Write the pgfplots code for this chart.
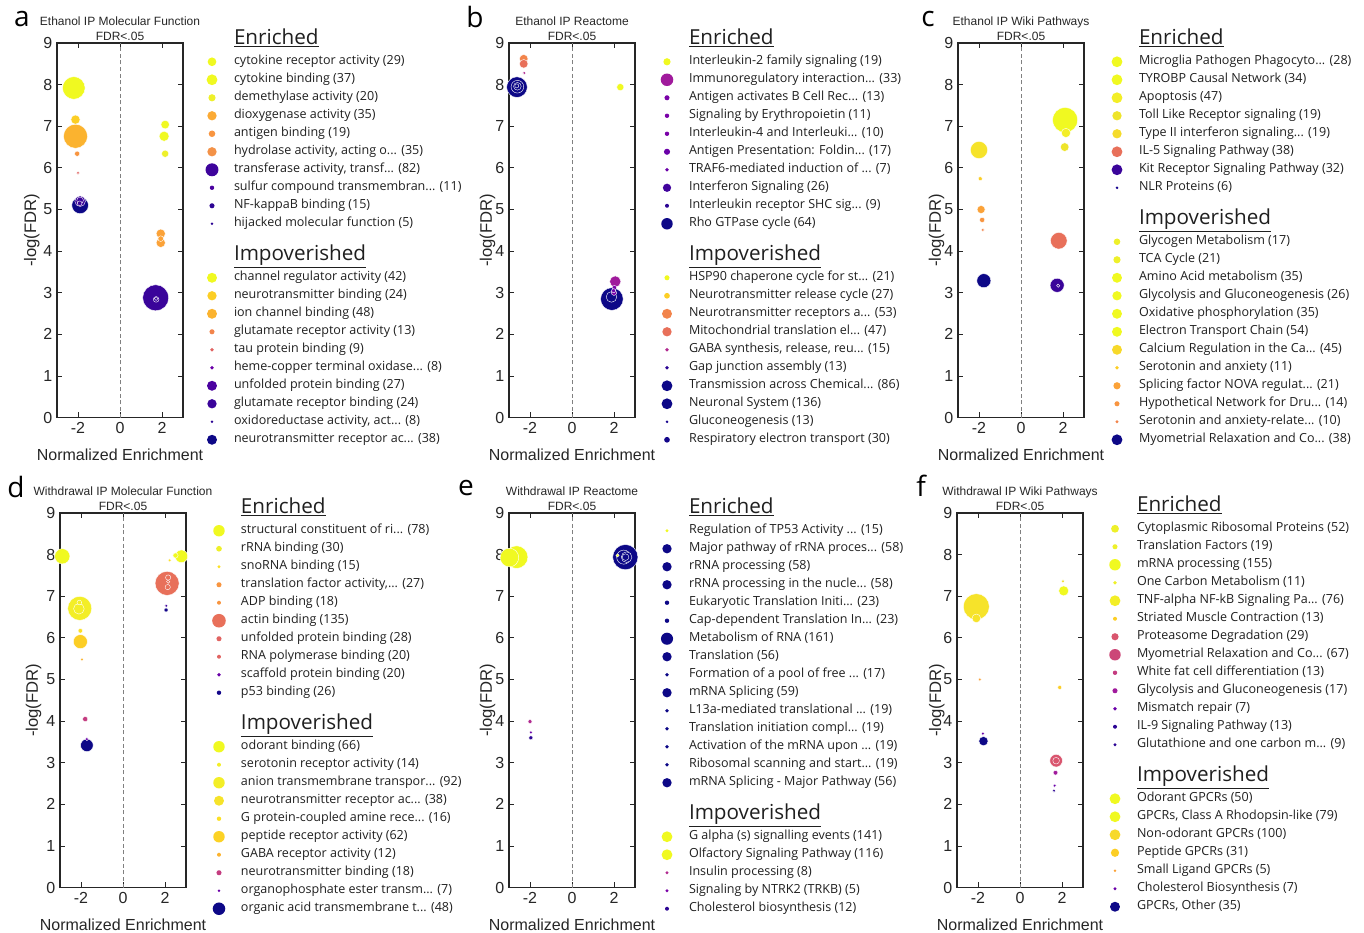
\documentclass[border=0pt]{standalone}
\usepackage{pgfplots}
\pgfplotsset{compat=1.18}
\usepackage{fontspec}
\setmainfont{Open Sans}
\newfontfamily\arial{Liberation Sans}
\definecolor{axc}{HTML}{262626}
\definecolor{legc}{HTML}{1F1F1F}
\definecolor{cF0F921}{HTML}{F0F921}
\definecolor{cEEF02A}{HTML}{EEF02A}
\definecolor{cF3EE27}{HTML}{F3EE27}
\definecolor{cF6E32A}{HTML}{F6E32A}
\definecolor{cF5DB2A}{HTML}{F5DB2A}
\definecolor{cF7D92A}{HTML}{F7D92A}
\definecolor{cEEE42A}{HTML}{EEE42A}
\definecolor{cEEE02A}{HTML}{EEE02A}
\definecolor{cFCE025}{HTML}{FCE025}
\definecolor{cFCCE25}{HTML}{FCCE25}
\definecolor{cFCD225}{HTML}{FCD225}
\definecolor{cFBB32F}{HTML}{FBB32F}
\definecolor{cFCB32F}{HTML}{FCB32F}
\definecolor{cFBAA35}{HTML}{FBAA35}
\definecolor{cFBA238}{HTML}{FBA238}
\definecolor{cF89540}{HTML}{F89540}
\definecolor{cF39248}{HTML}{F39248}
\definecolor{cF2844B}{HTML}{F2844B}
\definecolor{cE8705A}{HTML}{E8705A}
\definecolor{cE16462}{HTML}{E16462}
\definecolor{cD9556E}{HTML}{D9556E}
\definecolor{cCC4778}{HTML}{CC4778}
\definecolor{cC43C80}{HTML}{C43C80}
\definecolor{cB12A90}{HTML}{B12A90}
\definecolor{cA01A9C}{HTML}{A01A9C}
\definecolor{c7A02A8}{HTML}{7A02A8}
\definecolor{c6A00A8}{HTML}{6A00A8}
\definecolor{c4B02A0}{HTML}{4B02A0}
\definecolor{c41049D}{HTML}{41049D}
\definecolor{c3E049C}{HTML}{3E049C}
\definecolor{c3A049A}{HTML}{3A049A}
\definecolor{c2C0594}{HTML}{2C0594}
\definecolor{c2D0594}{HTML}{2D0594}
\definecolor{c1A0790}{HTML}{1A0790}
\definecolor{c13068A}{HTML}{13068A}
\definecolor{c0D0887}{HTML}{0D0887}
\newcommand{\legfont}{\fontsize{9.4}{10}\selectfont}
\newcommand{\hdfont}{\fontsize{15.5}{16}\selectfont}
\newcommand{\li}[3]{\addlegendimage{legend image code/.code={\path[draw=none,fill=none] (-8pt,0pt) -- (16.5pt,0pt);\fill[#1,draw=none] (0pt,0pt) circle[radius={0.8*#2pt+0.3pt}];}}\addlegendentry{#3}}
\newcommand{\hd}[1]{\addlegendimage{empty legend}\addlegendentry{\mbox{}}\addlegendimage{empty legend}\addlegendentry{\raisebox{2pt}{\hdfont\underline{#1}}}}
\newcommand{\pt}[4]{\addplot[forget plot, only marks, mark=*, mark size={0.75*#4pt+0.25pt}, mark options={fill=#3, draw=white, line width=0.3pt}] coordinates {(#1,#2)};}
\newcommand{\zl}{\addplot[forget plot, densely dashed, color=gray, line width=0.4pt] coordinates {(0,0) (0,9)};}
\pgfplotsset{
 panel/.style={
  anchor=north west, scale only axis, width=94.5pt, height=281pt,
  xmin=-3, xmax=3, ymin=0, ymax=9, xtick={-2,0,2}, ytick={0,1,...,9},
  tick align=inside, major tick length=4pt,
  axis line style={line width=0.9pt, draw=axc},
  tick style={line width=0.7pt, draw=axc},
  tick label style={font=\arial\fontsize{12}{12}\selectfont, text=axc},
  /pgf/number format/assume math mode=true,
  xlabel={Normalized Enrichment}, ylabel={-log(FDR)},
  xlabel style={font=\arial\fontsize{12}{12}\selectfont, text=axc, at={(axis description cs:0.5,-0.098)}, anchor=center},
  ylabel style={font=\arial\fontsize{12.5}{12.5}\selectfont, text=axc, anchor=center},
  title style={at={(axis description cs:0.5,1)}, anchor=south, yshift=-4.5pt, align=center, font=\arial\fontsize{9}{11.25}\selectfont, text=axc, inner sep=0pt},
  clip=false,
  legend cell align=left,
  legend style={draw=none, fill=none, anchor=north west, inner sep=0pt, outer sep=0pt, row sep=0pt, column sep=0pt, nodes={inner sep=0pt, outer sep=0pt, text height=9pt, text depth=4.5pt, text=legc}, font=\legfont},
 }}
\begin{document}
\begin{tikzpicture}
\path[use as bounding box] (0pt,0pt) rectangle (1023pt,-699pt);
\node[font=\fontsize{21}{21}\selectfont, text=black] at (16.5pt,-14pt) {a};
\node[font=\fontsize{21}{21}\selectfont, text=black] at (356.25pt,-13pt) {b};
\node[font=\fontsize{21}{21}\selectfont, text=black] at (696pt,-14pt) {c};
\node[font=\fontsize{21}{21}\selectfont, text=black] at (12pt,-365pt) {d};
\node[font=\fontsize{21}{21}\selectfont, text=black] at (349.5pt,-366pt) {e};
\node[font=\fontsize{21}{21}\selectfont, text=black] at (690.75pt,-364pt) {f};
% ---------------- a
\begin{axis}[panel, at={(42.75pt,-32.25pt)}, title={Ethanol IP Molecular Function\\FDR<.05},
  ylabel style={at={(axis description cs:-0.2,0.5)}}, legend style={at={(1.1455,1.0700)}}]
\zl
\pt{-2.2}{7.92}{cF0F921}{11}
\pt{-2.12}{6.76}{cFBB32F}{11.7}
\pt{-2.12}{7.16}{cFCCE25}{4.3}
\pt{-2.04}{6.34}{cF89540}{2.3}
\pt{-2.0}{5.88}{cE16462}{1.3}
\pt{-1.9}{5.1}{c0D0887}{8}
\pt{-1.9}{5.2}{c3A049A}{5}
\pt{-1.9}{5.22}{c3A049A}{3}
\pt{-1.92}{5.15}{c3A049A}{2}
\pt{2.15}{7.04}{cF0F921}{4}
\pt{2.1}{6.76}{cF0F921}{4.7}
\pt{2.15}{6.34}{cEEF02A}{3.3}
\pt{1.94}{4.42}{cFBA238}{4.3}
\pt{1.94}{4.2}{cFBA238}{4.3}
\pt{1.94}{4.3}{cFBA238}{2.5}
\pt{1.7}{2.88}{c3A049A}{12.7}
\pt{1.72}{2.84}{c3A049A}{2.5}
\pt{1.72}{2.86}{c3A049A}{1.5}
\hd{Enriched}
\li{cF0F921}{3.7}{cytokine receptor activity (29)}
\li{cF0F921}{4.7}{cytokine binding (37)}
\li{cEEF02A}{3}{demethylase activity (20)}
\li{cFBAA35}{4}{dioxygenase activity (35)}
\li{cF89540}{2.7}{antigen binding (19)}
\li{cF39248}{4}{hydrolase activity, acting o... (35)}
\li{c3E049C}{5.7}{transferase activity, transf... (82)}
\li{c4B02A0}{1.7}{sulfur compound transmembran... (11)}
\li{c2D0594}{2}{NF-kappaB binding (15)}
\li{c2D0594}{1}{hijacked molecular function (5)}
\hd{Impoverished}
\li{cF0F921}{4.3}{channel regulator activity (42)}
\li{cFCCE25}{4}{neurotransmitter binding (24)}
\li{cFBB32F}{4.3}{ion channel binding (48)}
\li{cF2844B}{2}{glutamate receptor activity (13)}
\li{cE16462}{1.3}{tau protein binding (9)}
\li{c6A00A8}{1.3}{heme-copper terminal oxidase... (8)}
\li{c4B02A0}{4.3}{unfolded protein binding (27)}
\li{c3A049A}{4}{glutamate receptor binding (24)}
\li{c2C0594}{1}{oxidoreductase activity, act... (8)}
\li{c0D0887}{4.3}{neurotransmitter receptor ac... (38)}
\end{axis}
% ---------------- b
\begin{axis}[panel, at={(381.75pt,-32.25pt)}, title={Ethanol IP Reactome\\FDR<.05},
  ylabel style={at={(axis description cs:-0.17,0.5)}}, legend style={at={(1.1693,1.0700)}}]
\zl
\pt{-2.3}{8.62}{cF2844B}{4}
\pt{-2.3}{8.5}{cE8705A}{4}
\pt{-2.27}{8.28}{cB12A90}{1.3}
\pt{-2.62}{7.94}{c0D0887}{10}
\pt{-2.6}{7.95}{c0D0887}{6}
\pt{-2.6}{7.96}{c0D0887}{3.5}
\pt{-2.63}{7.97}{c0D0887}{1.7}
\pt{2.3}{7.94}{cF0F921}{3.3}
\pt{2.06}{3.27}{cA01A9C}{5.3}
\pt{1.9}{2.85}{c0D0887}{11}
\pt{1.88}{2.9}{c0D0887}{5}
\pt{2.0}{3.0}{c7A02A8}{2.3}
\pt{2.02}{3.12}{c7A02A8}{2}
\pt{1.98}{3.05}{c6A00A8}{1.7}
\hd{Enriched}
\li{cF0F921}{3}{Interleukin-2 family signaling (19)}
\li{cA01A9C}{5.5}{Immunoregulatory interaction... (33)}
\li{c7A02A8}{2}{Antigen activates B Cell Rec... (13)}
\li{c7A02A8}{1.7}{Signaling by Erythropoietin (11)}
\li{c7A02A8}{1.7}{Interleukin-4 and Interleuki... (10)}
\li{c6A00A8}{2.5}{Antigen Presentation: Foldin... (17)}
\li{c6A00A8}{1.3}{TRAF6-mediated induction of ... (7)}
\li{c41049D}{3.5}{Interferon Signaling (26)}
\li{c2C0594}{1.5}{Interleukin receptor SHC sig... (9)}
\li{c0D0887}{5}{Rho GTPase cycle (64)}
\hd{Impoverished}
\li{cF0F921}{2}{HSP90 chaperone cycle for st... (21)}
\li{cFCCE25}{2.3}{Neurotransmitter release cycle (27)}
\li{cF2844B}{4.3}{Neurotransmitter receptors a... (53)}
\li{cE8705A}{4}{Mitochondrial translation el... (47)}
\li{cB12A90}{1.3}{GABA synthesis, release, reu... (15)}
\li{c2C0594}{1.3}{Gap junction assembly (13)}
\li{c0D0887}{4.7}{Transmission across Chemical... (86)}
\li{c0D0887}{4.7}{Neuronal System (136)}
\li{c1A0790}{1}{Gluconeogenesis (13)}
\li{c13068A}{2.3}{Respiratory electron transport (30)}
\end{axis}
% ---------------- c
\begin{axis}[panel, at={(718.5pt,-32.25pt)}, title={Ethanol IP Wiki Pathways\\FDR<.05},
  ylabel style={at={(axis description cs:-0.17,0.5)}}, legend style={at={(1.1772,1.0700)}}]
\zl
\pt{-2.0}{6.43}{cF6E32A}{8.3}
\pt{-1.94}{5.74}{cFCCE25}{1.7}
\pt{-1.9}{5.0}{cFBA238}{3.7}
\pt{-1.85}{4.75}{cF89540}{2.3}
\pt{-1.82}{4.51}{cF2844B}{1.3}
\pt{-1.77}{3.29}{c0D0887}{6.7}
\pt{2.1}{7.15}{cF0F921}{12.3}
\pt{2.14}{6.84}{cF3EE27}{4.3}
\pt{2.08}{6.5}{cEEE42A}{4}
\pt{1.8}{4.25}{cE8705A}{8}
\pt{1.72}{3.18}{c3A049A}{6.7}
\pt{1.77}{3.17}{c3A049A}{1.3}
\hd{Enriched}
\li{cF0F921}{4.7}{Microglia Pathogen Phagocyto... (28)}
\li{cF0F921}{4.7}{TYROBP Causal Network (34)}
\li{cF3EE27}{4.7}{Apoptosis (47)}
\li{cEEE42A}{4}{Toll Like Receptor signaling (19)}
\li{cF5DB2A}{4}{Type II interferon signaling... (19)}
\li{cE8705A}{4.7}{IL-5 Signaling Pathway (38)}
\li{c3A049A}{4.7}{Kit Receptor Signaling Pathway (32)}
\li{c1A0790}{1}{NLR Proteins (6)}
\hd{Impoverished}
\li{cEEF02A}{2.7}{Glycogen Metabolism (17)}
\li{cEEF02A}{3}{TCA Cycle (21)}
\li{cF0F921}{4.3}{Amino Acid metabolism (35)}
\li{cF0F921}{4}{Glycolysis and Gluconeogenesis (26)}
\li{cF0F921}{4.3}{Oxidative phosphorylation (35)}
\li{cF0F921}{4.3}{Electron Transport Chain (54)}
\li{cF7D92A}{4.3}{Calcium Regulation in the Ca... (45)}
\li{cFCCE25}{1.3}{Serotonin and anxiety (11)}
\li{cFBA238}{3}{Splicing factor NOVA regulat... (21)}
\li{cF89540}{2}{Hypothetical Network for Dru... (14)}
\li{cF2844B}{1.2}{Serotonin and anxiety-relate... (10)}
\li{c0D0887}{4.7}{Myometrial Relaxation and Co... (38)}
\end{axis}
% ---------------- d
\begin{axis}[panel, at={(45pt,-384.75pt)}, title={Withdrawal IP Molecular Function\\FDR<.05},
  ylabel style={at={(axis description cs:-0.21,0.5)}}, legend style={at={(1.1772,1.0728)}}]
\zl
\pt{-2.89}{7.96}{cF0F921}{7.3}
\pt{-2.06}{6.71}{cF3EE27}{11.7}
\pt{-2.1}{6.7}{cF3EE27}{5}
\pt{-2.08}{6.85}{cF3EE27}{2}
\pt{-2.03}{6.17}{cFCE025}{2}
\pt{-2.03}{5.91}{cFCCE25}{6.7}
\pt{-1.95}{5.48}{cFCB32F}{1.3}
\pt{-1.8}{4.05}{cC43C80}{2.3}
\pt{-1.72}{3.42}{c0D0887}{6}
\pt{-1.72}{3.57}{c6A00A8}{1.3}
\pt{2.78}{7.96}{cF0F921}{6}
\pt{2.5}{7.98}{cF0F921}{2.3}
\pt{2.22}{7.86}{cFCE025}{1.3}
\pt{2.1}{7.31}{cE8705A}{11.7}
\pt{2.15}{7.45}{cE8705A}{2.3}
\pt{2.13}{7.22}{cE8705A}{2.3}
\pt{2.15}{7.35}{cE8705A}{1.3}
\pt{2.06}{6.77}{c41049D}{1.3}
\pt{2.05}{6.67}{c13068A}{1.7}
\hd{Enriched}
\li{cF0F921}{5}{structural constituent of ri... (78)}
\li{cEEF02A}{2.3}{rRNA binding (30)}
\li{cFCE025}{1.2}{snoRNA binding (15)}
\li{cF89540}{2}{translation factor activity,... (27)}
\li{cF89540}{1.5}{ADP binding (18)}
\li{cE8705A}{6}{actin binding (135)}
\li{cE16462}{2}{unfolded protein binding (28)}
\li{cE16462}{1.5}{RNA polymerase binding (20)}
\li{c6A00A8}{1.3}{scaffold protein binding (20)}
\li{c13068A}{1.7}{p53 binding (26)}
\hd{Impoverished}
\li{cF0F921}{5}{odorant binding (66)}
\li{cF3EE27}{1.5}{serotonin receptor activity (14)}
\li{cF3EE27}{5}{anion transmembrane transpor... (92)}
\li{cF6E32A}{4.3}{neurotransmitter receptor ac... (38)}
\li{cFCE025}{1.7}{G protein-coupled amine rece... (16)}
\li{cFCD225}{5}{peptide receptor activity (62)}
\li{cFCB32F}{1.5}{GABA receptor activity (12)}
\li{cC43C80}{2}{neurotransmitter binding (18)}
\li{c6A00A8}{1}{organophosphate ester transm... (7)}
\li{c0D0887}{5.5}{organic acid transmembrane t... (48)}
\end{axis}
% ---------------- e
\begin{axis}[panel, at={(381.75pt,-384.75pt)}, title={Withdrawal IP Reactome\\FDR<.05},
  ylabel style={at={(axis description cs:-0.17,0.5)}}, legend style={at={(1.1693,1.0728)}}]
\zl
\pt{-2.64}{7.94}{cF0F921}{11}
\pt{-2.98}{7.93}{cF0F921}{9}
\pt{-2.0}{3.99}{cB12A90}{1.7}
\pt{-1.96}{3.73}{c6A00A8}{1.3}
\pt{-1.96}{3.6}{c2C0594}{1.7}
\pt{2.54}{7.94}{c0D0887}{12.3}
\pt{2.46}{7.94}{c0D0887}{6.7}
\pt{2.6}{7.94}{c0D0887}{5}
\pt{2.55}{7.94}{c0D0887}{3}
\pt{2.17}{7.98}{cF0F921}{1.3}
\hd{Enriched}
\li{cF0F921}{1.2}{Regulation of TP53 Activity ... (15)}
\li{c0D0887}{4}{Major pathway of rRNA proces... (58)}
\li{c0D0887}{4}{rRNA processing (58)}
\li{c0D0887}{4}{rRNA processing in the nucle... (58)}
\li{c0D0887}{1.7}{Eukaryotic Translation Initi... (23)}
\li{c0D0887}{1.7}{Cap-dependent Translation In... (23)}
\li{c0D0887}{5.3}{Metabolism of RNA (161)}
\li{c0D0887}{4}{Translation (56)}
\li{c0D0887}{1.3}{Formation of a pool of free ... (17)}
\li{c0D0887}{4}{mRNA Splicing (59)}
\li{c0D0887}{1.3}{L13a-mediated translational ... (19)}
\li{c0D0887}{1.3}{Translation initiation compl... (19)}
\li{c0D0887}{1.3}{Activation of the mRNA upon ... (19)}
\li{c0D0887}{1.3}{Ribosomal scanning and start... (19)}
\li{c0D0887}{4}{mRNA Splicing - Major Pathway (56)}
\hd{Impoverished}
\li{cF0F921}{4.7}{G alpha (s) signalling events (141)}
\li{cF0F921}{4.7}{Olfactory Signaling Pathway (116)}
\li{cB12A90}{1.2}{Insulin processing (8)}
\li{c7A02A8}{1.2}{Signaling by NTRK2 (TRKB) (5)}
\li{c2C0594}{1.5}{Cholesterol biosynthesis (12)}
\end{axis}
% ---------------- f
\begin{axis}[panel, at={(717.75pt,-384.75pt)}, title={Withdrawal IP Wiki Pathways\\FDR<.05},
  ylabel style={at={(axis description cs:-0.16,0.5)}}, legend style={at={(1.1693,1.0781)}}]
\zl
\pt{-2.08}{6.75}{cF6E32A}{12.7}
\pt{-2.08}{6.47}{cF6E32A}{4}
\pt{-1.92}{5.0}{cFBA238}{1.3}
\pt{-1.74}{3.52}{c0D0887}{4.3}
\pt{-1.77}{3.7}{c6A00A8}{1.3}
\pt{2.05}{7.36}{cEEE02A}{1.3}
\pt{2.08}{7.13}{cF0F921}{4.7}
\pt{1.89}{4.81}{cFCCE25}{1.7}
\pt{1.72}{3.05}{cD9556E}{6}
\pt{1.72}{3.05}{cD9556E}{3}
\pt{1.69}{2.76}{cA01A9C}{2}
\pt{1.65}{2.45}{c6A00A8}{1.3}
\pt{1.62}{2.33}{c2C0594}{1.3}
\hd{Enriched}
\li{cEEF02A}{3.3}{Cytoplasmic Ribosomal Proteins (52)}
\li{cEEF02A}{2}{Translation Factors (19)}
\li{cF0F921}{5}{mRNA processing (155)}
\li{cEEF02A}{1.3}{One Carbon Metabolism (11)}
\li{cF3EE27}{4.7}{TNF-alpha NF-kB Signaling Pa... (76)}
\li{cFCCE25}{1.5}{Striated Muscle Contraction (13)}
\li{cD9556E}{3}{Proteasome Degradation (29)}
\li{cCC4778}{5}{Myometrial Relaxation and Co... (67)}
\li{cC43C80}{1.7}{White fat cell differentiation (13)}
\li{cA01A9C}{2}{Glycolysis and Gluconeogenesis (17)}
\li{c6A00A8}{1.3}{Mismatch repair (7)}
\li{c2C0594}{1.5}{IL-9 Signaling Pathway (13)}
\li{c2C0594}{1.2}{Glutathione and one carbon m... (9)}
\hd{Impoverished}
\li{cF0F921}{4.7}{Odorant GPCRs (50)}
\li{cF0F921}{4.7}{GPCRs, Class A Rhodopsin-like (79)}
\li{cF7D92A}{4.7}{Non-odorant GPCRs (100)}
\li{cFCCE25}{3.5}{Peptide GPCRs (31)}
\li{cFBA238}{1}{Small Ligand GPCRs (5)}
\li{c6A00A8}{1.2}{Cholesterol Biosynthesis (7)}
\li{c0D0887}{4.3}{GPCRs, Other (35)}
\end{axis}
\end{tikzpicture}
\end{document}
